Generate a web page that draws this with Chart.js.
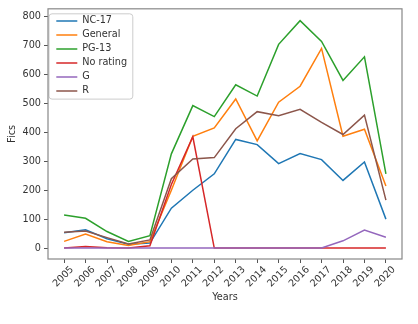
<!DOCTYPE html>
<html>
<head>
<meta charset="utf-8">
<script src="https://cdn.jsdelivr.net/npm/chart.js@4.4.0/dist/chart.umd.min.js"></script>
<style>
  html, body { margin: 0; padding: 0; background: #fff; }
</style>
</head>
<body>
<canvas id="myChart" width="418" height="324"></canvas>
<script>
// values
const years = [2005, 2006, 2007, 2008, 2009, 2010, 2011, 2012, 2013, 2014, 2015, 2016, 2017, 2018, 2019, 2020];
const nc17 = [53, 63, 32, 13, 17, 138, 200, 257, 376, 358, 292, 327, 306, 234, 298, 100];
const general = [23, 48, 22, 9, 22, 200, 387, 416, 516, 371, 505, 560, 691, 387, 411, 215];
const pg13 = [114, 103, 57, 23, 43, 326, 493, 455, 565, 526, 705, 787, 715, 580, 662, 257];
const noRating = [0, 5, 1, 0, 8, 220, 385, 0, 0, 0, 0, 0, 0, 0, 0, 0];
const gRated = [0, 0, 0, 0, 0, 0, 0, 0, 0, 0, 0, 0, 0, 25, 62, 37];
const rRated = [55, 59, 36, 14, 28, 240, 308, 313, 413, 472, 458, 480, 435, 393, 460, 166];
const yTicks = [0, 100, 200, 300, 400, 500, 600, 700, 800];

const seriesNames = ['NC-17', 'General', 'PG-13', 'No rating', 'G', 'R'];
const seriesValues = [nc17, general, pg13, noRating, gRated, rRated];
const seriesColors = ['#1f77b4', '#ff7f0e', '#2ca02c', '#d62728', '#9467bd', '#8c564b'];

const fontFam = "'DejaVu Sans', sans-serif";
const fsize = 9.7;

function makeSet(i) {
  return {
    label: seriesNames[i],
    data: years.map((yr, k) => ({ x: yr, y: seriesValues[i][k] })),
    borderColor: seriesColors[i],
    backgroundColor: seriesColors[i],
    borderWidth: 1.5,
    pointRadius: 0,
    tension: 0,
    order: 5 - i // later series on top, like matplotlib
  };
}

// frame round the axes + legend box
const framePlugin = {
  id: 'frame',
  afterLayout(chart) {
    const lg = chart.legend;
    lg.left = chart.chartArea.left + 4;
    lg.top = chart.chartArea.top + 3;
  },
  beforeDraw(chart) {
    const ctx = chart.ctx;
    const lg = chart.legend;
    ctx.save();
    ctx.font = fsize + 'px ' + fontFam;
    let maxW = 0;
    seriesNames.forEach(n => { maxW = Math.max(maxW, ctx.measureText(n).width); });
    const x0 = lg.left - 3;
    const x1 = lg.left + 21 + fsize / 2 + maxW + 10;
    const y0 = lg.top + 2;
    const y1 = lg.top + 4.3 + seriesNames.length * (fsize + 4.3) - 1;
    ctx.fillStyle = 'rgba(255,255,255,0.8)';
    ctx.strokeStyle = '#cccccc';
    ctx.lineWidth = 1;
    ctx.beginPath();
    ctx.roundRect(x0, y0, x1 - x0, y1 - y0, 3);
    ctx.fill();
    ctx.stroke();
    ctx.restore();
  },
  afterDraw(chart) {
    const a = chart.chartArea;
    const ctx = chart.ctx;
    ctx.save();
    ctx.strokeStyle = '#888888';
    ctx.lineWidth = 1.2;
    ctx.strokeRect(a.left, a.top, a.right - a.left, a.bottom - a.top);
    ctx.restore();
  }
};

const config = {
  type: 'line',
  data: { datasets: seriesNames.map((n, i) => makeSet(i)) },
  options: {
    responsive: false,
    animation: false,
    layout: { padding: { left: 0, right: 16, top: 7, bottom: 0 } },
    plugins: {
      tooltip: { enabled: false },
      legend: {
        position: 'chartArea',
        align: 'start',
        labels: {
          usePointStyle: true,
          pointStyle: 'line',
          pointStyleWidth: 21,
          padding: 4.3,
          color: '#333',
          font: { family: fontFam, size: fsize },
          sort: (a, b) => a.datasetIndex - b.datasetIndex
        }
      }
    },
    scales: {
      x: {
        type: 'linear',
        min: 2004.25,
        max: 2020.75,
        afterBuildTicks: (axis) => { axis.ticks = years.map(v => ({ value: v })); },
        afterFit: (axis) => { axis.height = 65; },
        grid: { drawOnChartArea: false, drawTicks: true, tickLength: 4, color: '#555' },
        border: { display: false },
        ticks: {
          minRotation: 45,
          maxRotation: 45,
          labelOffset: 8,
          padding: 1,
          color: '#333',
          font: { family: fontFam, size: fsize },
          callback: (v) => String(v)
        },
        title: {
          display: true,
          text: 'Years',
          color: '#333',
          font: { family: fontFam, size: fsize },
          padding: { top: 4, bottom: 20.7 }
        }
      },
      y: {
        min: -38,
        max: 828,
        afterBuildTicks: (axis) => { axis.ticks = yTicks.map(v => ({ value: v })); },
        afterFit: (axis) => { axis.width = 48; },
        grid: { drawOnChartArea: false, drawTicks: true, tickLength: 4, color: '#555' },
        border: { display: false },
        ticks: {
          padding: 3,
          color: '#333',
          font: { family: fontFam, size: fsize }
        },
        title: {
          display: true,
          text: 'Fics',
          color: '#333',
          font: { family: fontFam, size: fsize },
          padding: { top: 6.7, bottom: 4 }
        }
      }
    }
  },
  plugins: [framePlugin]
};

const myChart = new Chart(document.getElementById('myChart'), config);
</script>
</body>
</html>
